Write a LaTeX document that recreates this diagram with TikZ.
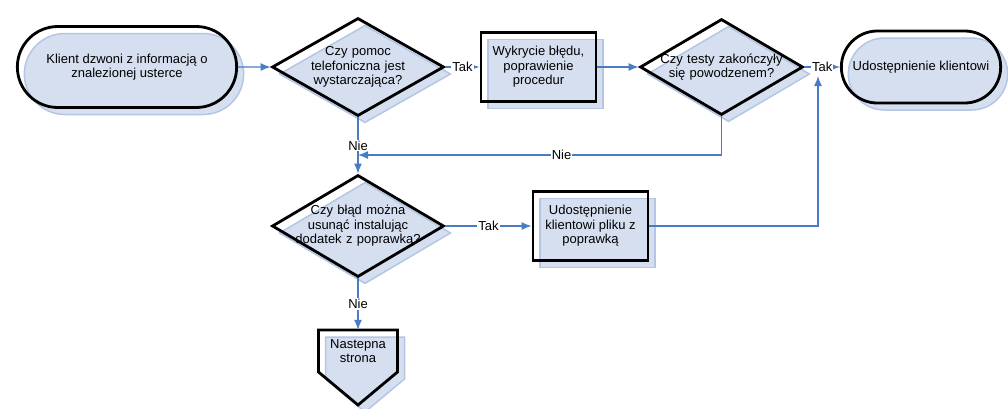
\documentclass[tikz,border=0pt]{standalone}
\usepackage{fontspec}
\setmainfont{Liberation Sans}
\usetikzlibrary{arrows.meta,shapes.geometric,shapes.misc,shadows}
\definecolor{boxfill}{HTML}{D5DFF0}
\definecolor{boxedge}{HTML}{B4C6E4}
\definecolor{flowline}{HTML}{4A7CC3}

\begin{document}
\begin{tikzpicture}[x=1pt, y=-1pt, font=\fontsize{13}{14.5}\selectfont,
    blueshade/.style={copy shadow={shadow xshift=7pt, shadow yshift=-7pt, fill=boxfill, draw=boxedge, line width=1.5pt}},
    outline/.style={draw=black, line width=2.8pt, blueshade},
    termbox/.style={rounded rectangle, outline, align=center},
    stepbox/.style={rectangle, outline, minimum width=115pt, minimum height=69pt, align=center},
    askbox/.style={diamond, outline, aspect=1.75, inner xsep=-18pt, inner ysep=-2pt, text width=136pt, align=center, minimum width=172pt, minimum height=98pt},
    flow/.style={draw=flowline, line width=1.3pt, -{Latex[length=10pt,width=8pt]}},
    tag/.style={fill=white, inner sep=1pt}]
  % 1 unit = 1 px of the original
  \useasboundingbox (0,0) rectangle (1008,408);

  \node[termbox, minimum width=226pt, minimum height=81pt] (start) at (127,67) {Klient dzwoni z informacją o\\znalezionej usterce};
  \node[askbox] (phone) at (358,67) {Czy pomoc\\telefoniczna jest\\wystarczająca?};
  \node[stepbox] (fix) at (538.5,67) {Wykrycie błędu,\\poprawienie\\procedur};
  \node[askbox, minimum width=163pt, minimum height=96pt] (tests) at (721.5,67) {Czy testy zakończyły\\się powodzenem?};
  \node[termbox, minimum width=166pt, minimum height=72pt] (done) at (921,67) {Udostępnienie klientowi};
  \node[askbox, minimum height=102pt] (patch) at (358,226) {Czy błąd można\\usunąć instalując\\dodatek z poprawką?};
  \node[stepbox] (send) at (590.5,226) {Udostępnienie\\klientowi pliku z\\poprawką};

  % off-page reference: pentagon first, text node on top
  \coordinate (pg) at (358,351);
  \draw[outline] (pg) ++(-39.5,-21) -- ++(79,0) -- ++(0,42) -- ++(-39.5,33) -- ++(-39.5,-33) -- cycle;
  \node[minimum width=79pt, minimum height=42pt, inner sep=0pt, align=center] (next) at (pg) {Nastepna\\strona};

  \coordinate (back) at (358,155);
  \coordinate (merge) at (818,76);

  \draw[flow] (start) -- (phone);
  \draw[flow] (phone) -- node[tag]{Tak} (fix);
  \draw[flow] (fix) -- (tests);
  \draw[flow] (tests) -- node[tag]{Tak} (done);
  \draw[flow] (phone) -- node[tag]{Nie} (patch);
  \draw[flow] (tests.south) |- node[tag, pos=0.72]{Nie} (back);
  \draw[flow] (patch) -- node[tag]{Tak} (send);
  \draw[flow] (send.east) -| (merge);
  \draw[flow] (patch) -- node[tag]{Nie} (next);
\end{tikzpicture}
\end{document}
